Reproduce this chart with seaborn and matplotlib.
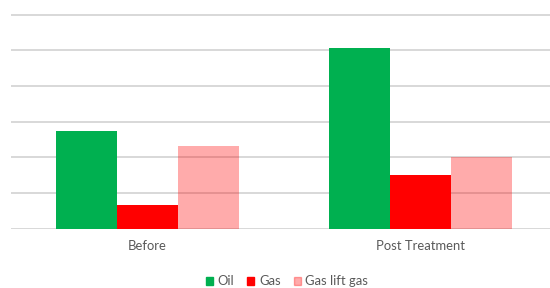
import numpy as np
import pandas as pd
import seaborn as sns
import matplotlib.pyplot as plt
import matplotlib.patches as mpatches

# valores (unidades de la grilla)
categorias = ['Before', 'Post Treatment']
series = ['Oil', 'Gas', 'Gas lift gas']
oil = [2.75, 5.07]
gas = [0.65, 1.50]
gas_lift = [2.32, 2.00]

colores = {'Oil': '#00B050', 'Gas': '#FF0000', 'Gas lift gas': '#FF0000'}
alfas = {'Oil': 1.0, 'Gas': 1.0, 'Gas lift gas': 0.33}

df = pd.DataFrame({
    'categoria': categorias * 3,
    'serie': ['Oil'] * 2 + ['Gas'] * 2 + ['Gas lift gas'] * 2,
    'valor': oil + gas + gas_lift,
})

sns.set_style('white')
plt.rcParams['font.family'] = ['Lato', 'DejaVu Sans']

fig = plt.figure(figsize=(5.5, 2.88), dpi=100)
ax = fig.add_axes([11 / 550, (288 - 229.2) / 288, 546 / 550, (229.2 - 14) / 288])

sns.barplot(data=df, x='categoria', y='valor', hue='serie',
            hue_order=series, palette=colores, width=0.67,
            saturation=1, legend=False, ax=ax)

# transparencia por serie
for cont, s in zip(ax.containers, series):
    for p in cont:
        p.set_alpha(alfas[s])
        p.set_edgecolor('none')
        p.set_zorder(2)

ax.set_xlim(-0.5, 1.5)
ax.set_ylim(-0.015, 6.015)
ax.set_yticks(np.arange(0, 7))
ax.yaxis.grid(True, color='#D6D6D6', lw=1.3)
ax.set_axisbelow(True)
for sp in ax.spines.values():
    sp.set_visible(False)
ax.set_yticklabels([])
ax.set_xlabel('')
ax.set_ylabel('')
ax.tick_params(axis='both', length=0)
ax.tick_params(axis='x', pad=8, labelsize=9.4, labelcolor='#595959')

handles = [mpatches.Patch(color=colores[s], alpha=alfas[s], label=s) for s in series]
fig.legend(handles=handles, loc='center', bbox_to_anchor=(287 / 550, 1 - 281.3 / 288),
           ncol=3, frameon=False, fontsize=9.4, labelcolor='#595959',
           handlelength=0.55, handleheight=0.55, handletextpad=0.35,
           columnspacing=1.0, borderpad=0)

fig.savefig('out.png', dpi=100)
